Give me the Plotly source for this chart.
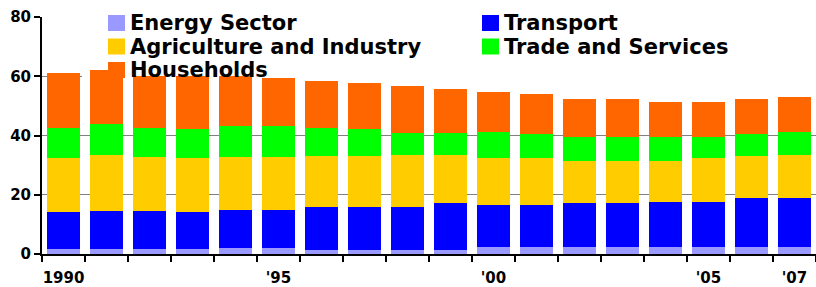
import plotly.graph_objects as go

years = ["1990", "1991", "1992", "1993", "1994", "1995", "1996", "1997", "1998",
         "1999", "2000", "2001", "2002", "2003", "2004", "2005", "2006", "2007"]
tick_labels = ["1990", "", "", "", "", "'95", "", "", "", "", "'00", "", "", "", "", "'05", "", "'07"]

energy = [1.8, 1.8, 1.8, 1.8, 2.0, 2.0, 1.5, 1.5, 1.5, 1.5, 2.5, 2.5, 2.5, 2.5, 2.5, 2.5, 2.5, 2.5]
transport = [12.3, 12.7, 12.7, 12.3, 13.0, 13.0, 14.5, 14.5, 14.5, 15.6, 14.2, 14.2, 14.6, 14.6, 15.2, 15.2, 16.3, 16.3]
agriculture = [18.2, 18.9, 18.4, 18.2, 17.9, 17.9, 17.0, 17.0, 17.4, 16.3, 15.6, 15.6, 14.2, 14.2, 13.6, 14.6, 14.2, 14.6]
trade = [10.4, 10.4, 9.8, 9.8, 10.3, 10.3, 9.7, 9.1, 7.6, 7.6, 8.8, 8.1, 8.1, 8.2, 8.2, 7.2, 7.4, 7.7]
households = [18.4, 18.2, 17.5, 18.1, 17.0, 16.1, 15.6, 15.5, 15.6, 14.6, 13.6, 13.5, 12.8, 12.7, 11.7, 11.7, 11.8, 11.8]

series_names = ["Energy Sector", "Transport", "Agriculture and Industry", "Trade and Services", "Households"]
series_values = [energy, transport, agriculture, trade, households]
series_colors = ["#9999FF", "#0000FF", "#FFCC00", "#00FF00", "#FF6600"]

W, H = 816, 287
ML, MR, MT, MB = 42, 0, 17, 33
PW, PH = W - ML - MR, H - MT - MB

def px_x(px):
    return (px - ML) / PW

def px_y(py):
    return (H - MB - py) / PH

FONT = "DejaVu Sans"

fig = go.Figure()
for name, vals, col in zip(series_names, series_values, series_colors):
    fig.add_bar(x=years, y=vals, name=name, marker_color=col,
                marker_line_width=0, showlegend=False)

shapes = []
annotations = []
# white area behind the legend that hides the upper gridlines (bars stay in front)
n = len(years)
cat_per_px = n / PW
shapes.append(dict(type="rect", xref="x", yref="y",
                   x0=-0.5 + (82 - ML) * cat_per_px, x1=n - 0.5,
                   y0=56, y1=82, fillcolor="white", line_width=0, layer="between"))

col_x = [108, 482]
row_y = [23, 46.5, 70]
for i, (name, col) in enumerate(zip(series_names, series_colors)):
    cx = col_x[i % 2]
    cy = row_y[i // 2]
    shapes.append(dict(type="rect", xref="paper", yref="paper",
                       x0=px_x(cx), x1=px_x(cx + 17), y0=px_y(cy + 8), y1=px_y(cy - 8),
                       fillcolor=col, line_width=0, layer="above"))
    annotations.append(dict(text=name, xref="paper", yref="paper", x=px_x(cx + 20), y=px_y(cy),
                            xanchor="left", yanchor="middle", showarrow=False,
                            font=dict(family=FONT, size=21, color="black", weight="bold")))

fig.update_layout(
    barmode="stack", bargap=0.21,
    width=W, height=H,
    margin=dict(l=ML, r=MR, t=MT, b=MB, pad=0, autoexpand=False),
    paper_bgcolor="white", plot_bgcolor="white",
    showlegend=False,
    shapes=shapes, annotations=annotations,
    xaxis=dict(type="category", tickmode="array", tickvals=years, ticktext=tick_labels,
               tickson="boundaries", ticks="outside", ticklen=6, tickwidth=2, tickcolor="black",
               tickangle=0, automargin=False, ticklabelstandoff=9,
               showline=True, linecolor="black", linewidth=2, showgrid=False,
               tickfont=dict(family=FONT, size=15, color="black", weight="bold")),
    yaxis=dict(range=[0, 80], tickmode="array", tickvals=[0, 20, 40, 60, 80],
               showgrid=True, gridcolor="#808080", gridwidth=1, zeroline=False,
               showline=True, linecolor="black", linewidth=2, automargin=False,
               ticks="outside", ticklen=6, tickwidth=2, tickcolor="black",
               tickfont=dict(family=FONT, size=15, color="black", weight="bold")),
)

fig.write_html("out.html", config={"displayModeBar": False},
               post_script="document.body.style.margin='0';document.body.style.overflow='hidden';")
